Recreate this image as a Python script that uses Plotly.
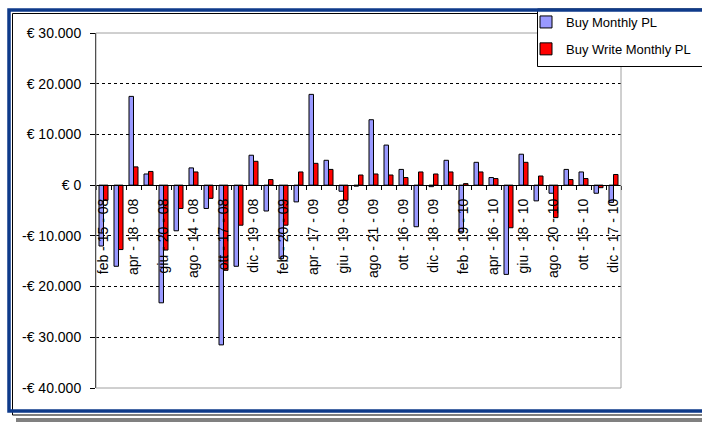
import plotly.graph_objects as go

# ---------------- data ----------------
month_index = list(range(35))  # feb 08 ... dic 10, one bar pair per month
tick_labels = ["feb - 15 - 08", "apr - 18 - 08", "giu - 20 - 08", "ago - 14 - 08",
               "ott - 17 - 08", "dic - 19 - 08", "feb - 20 - 09", "apr - 17 - 09",
               "giu - 19 - 09", "ago - 21 - 09", "ott - 16 - 09", "dic - 18 - 09",
               "feb - 19 - 10", "apr - 16 - 10", "giu - 18 - 10", "ago - 20 - 10",
               "ott - 15 - 10", "dic - 17 - 10"]
buy_monthly_pl = [-12000, -16000, 17500, 2200, -23200, -9000, 3400, -4600, -31500, -16000,
                  5900, -5100, -14500, -3300, 17900, 4900, -1200, -200, 12900, 7900,
                  3100, -8200, -300, 4900, -9200, 4500, 1500, -17600, 6100, -3100,
                  -1600, 3100, 2600, -1600, -3400]
buy_write_monthly_pl = [-3000, -12700, 3600, 2700, -12800, -4600, 2600, -2600, -16800, -7900,
                        4700, 1100, -7900, 2600, 4300, 3100, -3000, 2000, 2200, 2000,
                        1500, 2600, 2200, 2600, 300, 2600, 1300, -8400, 4500, 1800,
                        -6400, 1100, 1300, -500, 2100]
y_tickvals = [30000, 20000, 10000, 0, -10000, -20000, -30000, -40000]
y_ticktext = ["€ 30.000", "€ 20.000", "€ 10.000", "€ 0", "-€ 10.000", "-€ 20.000",
              "-€ 30.000", "-€ 40.000"]

# ---------------- geometry ----------------
W, H = 702, 423
ML, MR, MT, MB = 96, 81, 33, 35
PW, PH = W - ML - MR, H - MT - MB


def xp(px):
    return (px - ML) / PW


def yp(py):
    return (H - MB - py) / PH


FONT = "Arial, 'Liberation Sans', sans-serif"

fig = go.Figure()
fig.add_bar(x=month_index, y=buy_monthly_pl, name="Buy Monthly PL", legendgroup="a",
            marker=dict(color="#9999FF", line=dict(color="#000000", width=1)))
fig.add_bar(x=month_index, y=buy_write_monthly_pl, name="Buy Write Monthly PL", legendgroup="b",
            marker=dict(color="#FF0000", line=dict(color="#000000", width=1)))

ymin, ymax = -40000, 30000
zero_pos = (0 - ymin) / (ymax - ymin)

fig.update_layout(
    width=W, height=H,
    margin=dict(l=ML, r=MR, t=MT, b=MB, autoexpand=False),
    paper_bgcolor="white", plot_bgcolor="white",
    barmode="group", bargap=0.4, bargroupgap=0.0,
    font=dict(family=FONT, color="black"),
    showlegend=True,
    legend=dict(x=xp(526), y=yp(7), xanchor="left", yanchor="top",
                bgcolor="rgba(0,0,0,0)", borderwidth=0,
                font=dict(family=FONT, size=13, color="black"),
                tracegroupgap=7),
    xaxis=dict(range=[-0.5, 34.5], anchor="free", position=zero_pos,
               showline=True, linecolor="black", linewidth=1,
               tickmode="array", tickvals=month_index[::2], ticktext=tick_labels,
               tickangle=-90, ticks="outside", ticklen=7, tickcolor="rgba(0,0,0,0)",
               tickfont=dict(family=FONT, size=14, color="black"),
               minor=dict(tickmode="array", tickvals=[i - 0.5 for i in range(36)],
                          ticks="outside", ticklen=4, tickcolor="black", showgrid=False),
               showgrid=False, zeroline=False, layer="above traces"),
    yaxis=dict(range=[ymin, ymax], tickmode="array", tickvals=y_tickvals, ticktext=y_ticktext,
               showline=True, linecolor="black", linewidth=1,
               ticks="outside", ticklen=5, tickcolor="black",
               ticklabelstandoff=6,
               tickfont=dict(family=FONT, size=14, color="black"),
               showgrid=True, gridcolor="black", gridwidth=1, griddash="3px,3px",
               zeroline=False),
)

shapes = [
    # plot-area border
    dict(type="rect", xref="paper", yref="paper", x0=0, x1=1, y0=0, y1=1,
         line=dict(color="#A0A0A0", width=1), layer="above"),
    # gray shadow strip under the chart frame
    dict(type="rect", xref="paper", yref="paper", x0=xp(16), x1=xp(712), y0=yp(422), y1=yp(418),
         line=dict(width=0), fillcolor="#808080", layer="above"),
    # thin black frame
    dict(type="rect", xref="paper", yref="paper", x0=xp(12.5), x1=xp(715), y0=yp(415), y1=yp(13.5),
         line=dict(color="black", width=1), layer="above"),
    # legend box
    dict(type="rect", xref="paper", yref="paper", x0=xp(537.5), x1=xp(720), y0=yp(66.5), y1=yp(9),
         line=dict(color="black", width=1), fillcolor="white", layer="above"),
    # thick navy frame
    dict(type="rect", xref="paper", yref="paper", x0=xp(9), x1=xp(715), y0=yp(411), y1=yp(10),
         line=dict(color="#0E3A8A", width=3.5), layer="above"),
]
fig.update_layout(shapes=shapes)

fig.write_html("out.html")
